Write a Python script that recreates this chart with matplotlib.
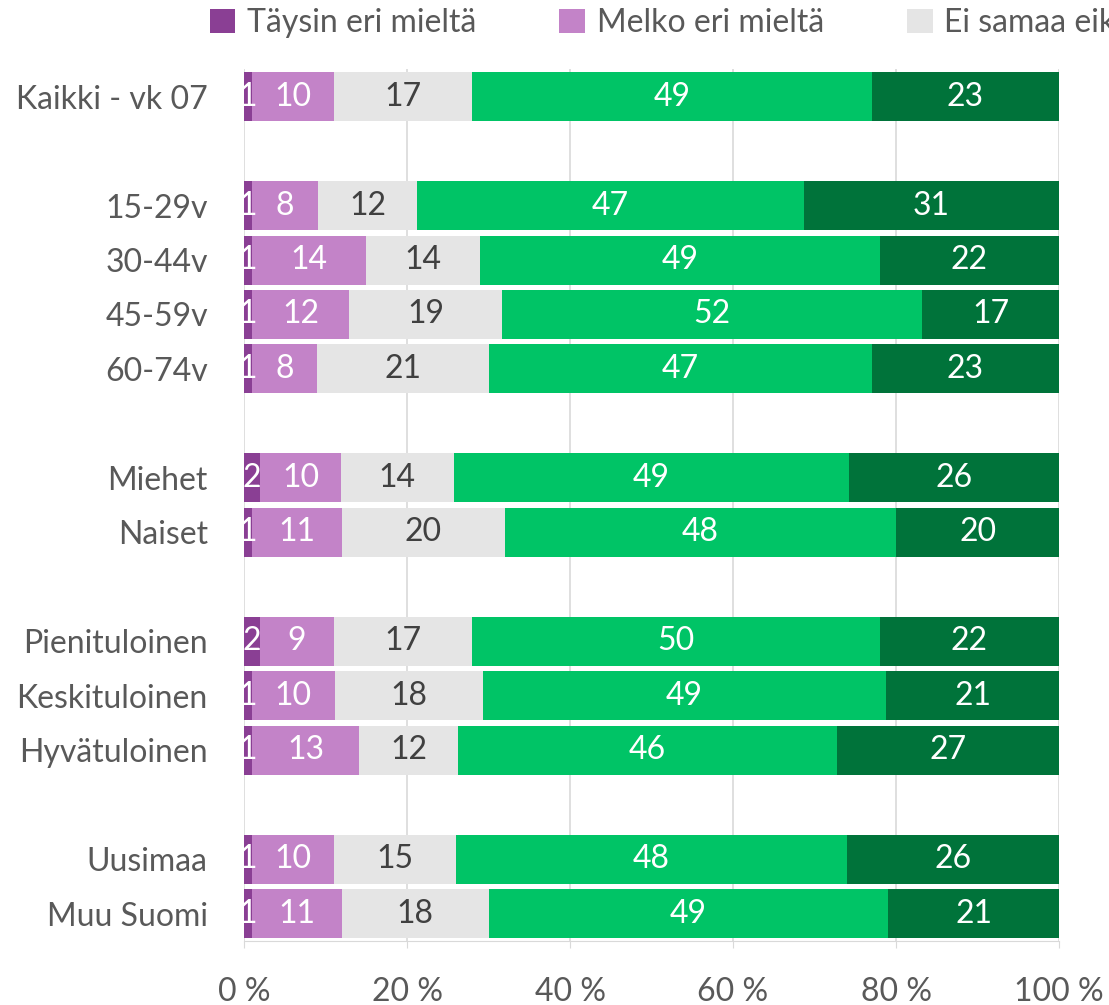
import numpy as np
import matplotlib
matplotlib.use("Agg")
import matplotlib.pyplot as plt

# === DATA ===
groups = ["Kaikki - vk 07", "15-29v", "30-44v", "45-59v", "60-74v",
          "Miehet", "Naiset", "Pienituloinen", "Keskituloinen", "Hyvätuloinen",
          "Uusimaa", "Muu Suomi"]
row_pos = [0, 2, 3, 4, 5, 7, 8, 10, 11, 12, 14, 15]

series = ["Täysin eri mieltä", "Melko eri mieltä", "Ei samaa eikä eri mieltä",
          "Melko samaa mieltä", "Täysin samaa mieltä"]
tays_eri = [1, 1, 1, 1, 1, 2, 1, 2, 1, 1, 1, 1]
melko_eri = [10, 8, 14, 12, 8, 10, 11, 9, 10, 13, 10, 11]
ei_samaa = [17, 12, 14, 19, 21, 14, 20, 17, 18, 12, 15, 18]
melko_samaa = [49, 47, 49, 52, 47, 49, 48, 50, 49, 46, 48, 49]
tays_samaa = [23, 31, 22, 17, 23, 26, 20, 22, 21, 27, 26, 21]

colors = ["#8A3F94", "#C383C8", "#E5E5E5", "#00C466", "#00733A"]
text_colors = ["white", "white", "#404040", "white", "white"]

# === STYLE ===
plt.rcParams['font.family'] = ['Lato', 'DejaVu Sans']
fs = 23

fig = plt.figure(figsize=(11.09, 10.05), dpi=100)
ax = fig.add_axes([0.22, 0.0637, 0.735, 0.8673])

data = np.array([tays_eri, melko_eri, ei_samaa, melko_samaa, tays_samaa], dtype=float)
shares = data / data.sum(axis=0) * 100
left = np.zeros(len(groups))
for i, name in enumerate(series):
    bars = ax.barh(row_pos, shares[i], left=left, height=0.9, color=colors[i],
                   label=name, zorder=3)
    for bar, v in zip(bars, data[i]):
        ax.text(bar.get_x() + bar.get_width() / 2, bar.get_y() + bar.get_height() / 2,
                f"{int(v)}", ha="center", va="center", fontsize=fs,
                color=text_colors[i], zorder=4)
    left += shares[i]

ax.set_xlim(0, 100)
ax.set_ylim(15.5, -0.5)
ax.set_yticks(row_pos)
ax.set_yticklabels(groups, fontsize=fs, color="#595959")
ax.set_xticks(np.arange(0, 101, 20))
ax.set_xticklabels([f"{t} %" for t in range(0, 101, 20)], fontsize=fs, color="#595959")
ax.tick_params(axis="y", length=0, pad=26)
ax.tick_params(axis="x", length=5, color="#D9D9D9", pad=21)
ax.grid(axis="x", color="#D9D9D9", linewidth=1.2, zorder=0)
for s in ["top", "right", "left"]:
    ax.spines[s].set_visible(False)
ax.spines["bottom"].set_color("#D9D9D9")

# legend runs past the right edge, as in the original
fig.legend(loc="upper left", bbox_to_anchor=(0.189, 0.992), ncol=5, frameon=False,
           fontsize=fs, handlelength=0.8, handleheight=0.8, handletextpad=0.37,
           columnspacing=2.6, borderpad=0, borderaxespad=0, labelcolor="#595959")

fig.savefig("out.png", dpi=100)
